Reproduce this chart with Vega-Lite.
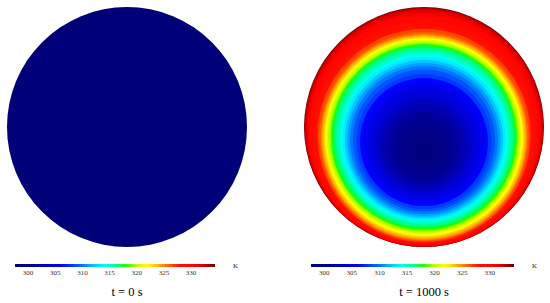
{
  "$schema": "https://vega.github.io/schema/vega-lite/v6.json",
  "padding": {"left": 7, "top": 7, "right": 0, "bottom": 0},
  "background": "white",
  "config": {"view": {"stroke": null}},
  "bounds": "flush",
  "spacing": 57,
  "datasets": {
    "t0": [{"x": 0, "y": 0, "r": 12, "T": 297.6}],
    "t1000": [
      {"x":0,"y":0,"r":12,"T":334},
      {"x":0,"y":0.05,"r":11.95,"T":333},
      {"x":0,"y":0.1,"r":11.85,"T":332},
      {"x":0,"y":0.25,"r":11.65,"T":331},
      {"x":0,"y":0.35,"r":11.45,"T":330},
      {"x":0,"y":0.55,"r":11.15,"T":329},
      {"x":0,"y":0.75,"r":10.85,"T":328},
      {"x":0,"y":0.85,"r":10.65,"T":327},
      {"x":0,"y":0.95,"r":10.45,"T":326},
      {"x":0,"y":1.0,"r":10.3,"T":325},
      {"x":0,"y":1.0,"r":10.2,"T":324},
      {"x":0,"y":1.0,"r":10.05,"T":323},
      {"x":0,"y":1.0,"r":9.9,"T":322},
      {"x":0,"y":1.0,"r":9.75,"T":321},
      {"x":0,"y":1.0,"r":9.6,"T":320},
      {"x":0,"y":1.0,"r":9.45,"T":319},
      {"x":0,"y":1.0,"r":9.3,"T":318},
      {"x":0,"y":1.0,"r":9.1,"T":317},
      {"x":0,"y":1.0,"r":8.9,"T":316},
      {"x":0,"y":1.05,"r":8.65,"T":315},
      {"x":0,"y":1.1,"r":8.4,"T":314},
      {"x":0,"y":1.15,"r":8.15,"T":313},
      {"x":0,"y":1.2,"r":7.9,"T":312},
      {"x":0,"y":1.25,"r":7.65,"T":311},
      {"x":0,"y":1.3,"r":7.4,"T":310},
      {"x":0,"y":1.35,"r":7.1,"T":309},
      {"x":0,"y":1.45,"r":6.75,"T":308},
      {"x":0,"y":1.5,"r":6.4,"T":307},
      {"x":0,"y":1.55,"r":6.05,"T":306},
      {"x":0,"y":1.6,"r":5.65,"T":305},
      {"x":0,"y":1.7,"r":5.2,"T":304},
      {"x":0,"y":1.8,"r":4.7,"T":303},
      {"x":0,"y":1.9,"r":4.2,"T":302},
      {"x":0,"y":2.0,"r":3.6,"T":301},
      {"x":0,"y":2.1,"r":3.0,"T":300},
      {"x":0,"y":2.2,"r":2.2,"T":299},
      {"x":0,"y":2.3,"r":1.5,"T":298.5},
      {"x":0,"y":2.3,"r":0.8,"T":298}
    ]
  },
  "hconcat": [
    {
      "width": 240, "height": 240,
      "title": {"text": "t = 0 s", "orient": "bottom", "frame": "group", "anchor": "middle", "offset": 20, "baseline": "alphabetic", "font": "Liberation Serif, serif", "fontSize": 12.5, "fontWeight": "normal", "color": "#000000"},
      "data": {"name": "t0"},
      "mark": {"type": "circle", "opacity": 1, "strokeWidth": 0},
      "encoding": {
        "x": {"field": "x", "type": "quantitative", "scale": {"domain": [-12, 12], "nice": false}, "axis": null},
        "y": {"field": "y", "type": "quantitative", "scale": {"domain": [-12, 12], "nice": false, "reverse": true}, "axis": null},
        "size": {"field": "r", "type": "quantitative", "scale": {"type": "pow", "exponent": 2, "domain": [0, 12], "range": [0, 57600], "nice": false}, "legend": null},
        "order": {"field": "r", "sort": "descending"},
        "color": {"field": "T", "type": "quantitative",
          "scale": {"domain": [297.6, 301, 304, 307, 309.5, 311.5, 313.5, 316, 318, 320, 322, 324, 326, 328, 331, 333, 334.4],
                    "range": ["#000078", "#00009a", "#0000d8", "#0000ff", "#0060ff", "#00b0ff", "#00ffff", "#00ff90", "#20ff00", "#c0ff00", "#ffff00", "#ffb000", "#ff6000", "#ff1000", "#ff0000", "#c00000", "#600000"]},
          "legend": {"orient": "none", "legendX": 8, "legendY": 257, "direction": "horizontal", "gradientLength": 200, "gradientThickness": 3, "gradientStrokeWidth": 0, "values": [300, 305, 310, 315, 320, 325, 330], "labelFont": "Liberation Serif, serif", "labelFontSize": 7, "labelColor": "#333333", "labelOffset": 2, "labelOverlap": false, "title": "K", "titleOrient": "right", "titleFont": "Liberation Serif, serif", "titleFontSize": 7, "titleFontWeight": "normal", "titleColor": "#222222", "titlePadding": 18, "padding": 0}}
      }
    },
    {
      "width": 240, "height": 240,
      "title": {"text": "t = 1000 s", "orient": "bottom", "frame": "group", "anchor": "middle", "offset": 20, "baseline": "alphabetic", "font": "Liberation Serif, serif", "fontSize": 12.5, "fontWeight": "normal", "color": "#000000"},
      "data": {"name": "t1000"},
      "mark": {"type": "circle", "opacity": 1, "strokeWidth": 0},
      "encoding": {
        "x": {"field": "x", "type": "quantitative", "scale": {"domain": [-12, 12], "nice": false}, "axis": null},
        "y": {"field": "y", "type": "quantitative", "scale": {"domain": [-12, 12], "nice": false, "reverse": true}, "axis": null},
        "size": {"field": "r", "type": "quantitative", "scale": {"type": "pow", "exponent": 2, "domain": [0, 12], "range": [0, 57600], "nice": false}, "legend": null},
        "order": {"field": "r", "sort": "descending"},
        "color": {"field": "T", "type": "quantitative",
          "scale": {"domain": [297.6, 301, 304, 307, 309.5, 311.5, 313.5, 316, 318, 320, 322, 324, 326, 328, 331, 333, 334.4],
                    "range": ["#000078", "#00009a", "#0000d8", "#0000ff", "#0060ff", "#00b0ff", "#00ffff", "#00ff90", "#20ff00", "#c0ff00", "#ffff00", "#ffb000", "#ff6000", "#ff1000", "#ff0000", "#c00000", "#600000"]},
          "legend": {"orient": "none", "legendX": 7, "legendY": 257, "direction": "horizontal", "gradientLength": 203, "gradientThickness": 3, "gradientStrokeWidth": 0, "values": [300, 305, 310, 315, 320, 325, 330], "labelFont": "Liberation Serif, serif", "labelFontSize": 7, "labelColor": "#333333", "labelOffset": 2, "labelOverlap": false, "title": "K", "titleOrient": "right", "titleFont": "Liberation Serif, serif", "titleFontSize": 7, "titleFontWeight": "normal", "titleColor": "#222222", "titlePadding": 18, "padding": 0}}
      }
    }
  ],
  "resolve": {"scale": {"color": "independent", "size": "independent", "x": "independent", "y": "independent"}, "legend": {"color": "independent"}}
}
